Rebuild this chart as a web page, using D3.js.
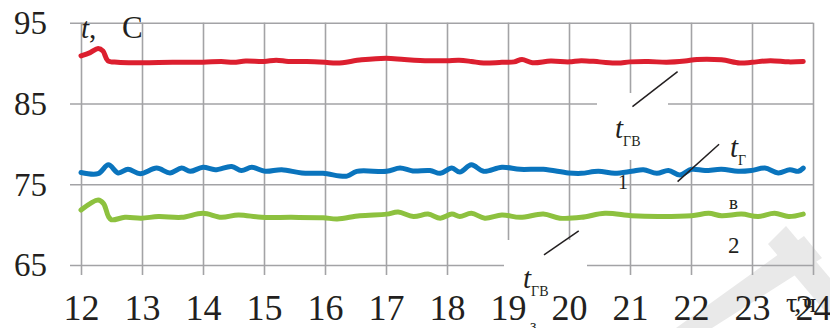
<!DOCTYPE html>
<html>
<head>
<meta charset="utf-8">
<script src="https://cdn.jsdelivr.net/npm/d3@7/dist/d3.min.js"></script>
<style>
  html, body { margin: 0; padding: 0; background: #fff; }
  svg { display: block; }
  text { font-family: "Liberation Serif", "Times New Roman", serif; fill: #231f20; }
</style>
</head>
<body>
<script>
// Axis ticks
const hourTicks = [12, 13, 14, 15, 16, 17, 18, 19, 20, 21, 22, 23, 24];
const tempTicks = [65, 75, 85, 95];

// Hot-water temperature t_ГВ (red)
const redHours = [12.0, 12.15, 12.28, 12.36, 12.44, 12.6, 13.0, 13.5, 14.0, 14.3, 14.5, 14.7, 15.0, 15.2, 15.4, 15.7,
  16.0, 16.2, 16.6, 17.0, 17.3, 17.7, 18.0, 18.2, 18.4, 18.6, 18.9, 19.1, 19.23, 19.4, 19.7, 20.0, 20.2, 20.5,
  20.8, 21.0, 21.3, 21.6, 21.9, 22.1, 22.5, 22.8, 23.0, 23.3, 23.6, 23.84];
const redTemps = [90.9, 91.3, 91.8, 91.5, 90.3, 90.1, 90.05, 90.1, 90.1, 90.2, 90.1, 90.25, 90.2, 90.35, 90.2, 90.2,
  90.1, 90.0, 90.4, 90.6, 90.45, 90.3, 90.3, 90.35, 90.2, 90.0, 90.1, 90.15, 90.45, 90.05, 90.25, 90.15, 90.3, 90.15,
  90.0, 90.15, 90.2, 90.1, 90.25, 90.45, 90.4, 90.0, 90.1, 90.3, 90.15, 90.2];

// Return temperature t_Г (blue), line 1
const blueHours = [12.0, 12.28, 12.45, 12.61, 12.77, 12.97, 13.24, 13.46, 13.65, 13.79, 14.0, 14.2, 14.47, 14.63, 14.8,
  15.02, 15.29, 15.62, 15.97, 16.36, 16.52, 17.01, 17.23, 17.44, 17.72, 17.89, 18.08, 18.21, 18.4, 18.6, 18.9, 19.2,
  19.58, 19.99, 20.2, 20.48, 20.75, 21.03, 21.22, 21.44, 21.63, 21.82, 22.01, 22.23, 22.5, 22.77, 22.99, 23.21,
  23.43, 23.62, 23.76, 23.84];
const blueTemps = [76.45, 76.3, 77.4, 76.4, 76.85, 76.3, 77.0, 76.4, 77.0, 76.6, 77.1, 76.8, 77.2, 76.7, 77.1,
  76.6, 76.8, 76.4, 76.35, 76.0, 76.6, 76.6, 77.0, 76.65, 76.7, 76.35, 77.0, 76.5, 77.4, 76.6, 77.1, 76.85,
  76.85, 76.4, 76.35, 76.6, 76.35, 76.6, 76.8, 76.35, 76.7, 76.15, 76.85, 76.7, 76.85, 76.6, 76.7, 77.0,
  76.4, 76.8, 76.6, 77.0];

// Return temperature t_Гв (green), line 2
const greenHours = [12.0, 12.28, 12.37, 12.45, 12.5, 12.72, 12.99, 13.27, 13.65, 14.0, 14.3, 14.58, 14.96, 15.45,
  15.97, 16.2, 16.57, 17.01, 17.2, 17.45, 17.69, 17.89, 18.08, 18.21, 18.4, 18.62, 18.9, 19.2, 19.58, 19.85,
  20.2, 20.59, 21.03, 21.46, 22.01, 22.29, 22.5, 22.83, 23.1, 23.37, 23.6, 23.84];
const greenTemps = [71.8, 73.05, 72.6, 71.0, 70.6, 70.9, 70.8, 71.0, 70.9, 71.4, 70.9, 71.2, 70.9, 70.9,
  70.85, 70.7, 71.1, 71.3, 71.55, 71.0, 71.3, 70.8, 71.3, 71.0, 71.4, 70.8, 71.2, 70.9, 71.3, 70.8,
  70.9, 71.4, 71.1, 71.0, 71.1, 71.4, 71.1, 71.3, 71.0, 71.4, 71.0, 71.3];

// Leader lines for the curve labels, in (hour, °C)
const leaderLines = [
  [[21.04, 84.6], [21.78, 88.94]],
  [[21.78, 75.32], [22.46, 79.95]],
  [[19.59, 66.25], [20.16, 69.22]]
];

const W = 830, H = 328;
const svg = d3.select("body").append("svg").attr("width", W).attr("height", H);

const x = d3.scaleLinear().domain([12, 24]).range([81, 813]);
const y = d3.scaleLinear().domain([65, 95]).range([265, 22.7]);

const gridColor = "#a3a3a6";

// Faint watermark in the lower right corner
const wm = svg.append("g").attr("fill", "#e9e9e9");
wm.append("polygon").attr("points", "676,328 712,328 822,258 804,236");
wm.append("polygon").attr("points", "768,244 786,226 852,304 834,322");

// Vertical grid lines with hour labels
const xAxis = d3.axisBottom(x).tickValues(hourTicks).tickSizeInner(-(275 - y(95))).tickSizeOuter(0);
const gx = svg.append("g").attr("transform", "translate(0,275)").call(xAxis);
gx.select(".domain").remove();
gx.selectAll("line").attr("stroke", gridColor).attr("stroke-width", 1.6);
gx.selectAll("text").attr("y", 45).attr("dy", null)
  .style("font-size", "36px").attr("fill", "#231f20");

// Horizontal grid lines with temperature labels
const yAxis = d3.axisLeft(y).tickValues(tempTicks).tickSizeInner(813 - 70).tickSizeOuter(0);
const gy = svg.append("g").attr("transform", "translate(813,0)").call(yAxis);
gy.select(".domain").remove();
gy.selectAll("line").attr("stroke", gridColor).attr("stroke-width", 1.6);
gy.selectAll("text").attr("x", 47 - 813).attr("dy", "0.33em")
  .style("font-size", "33px").attr("fill", "#231f20");

// White boxes behind the curve labels
svg.append("rect").attr("x", 597).attr("y", 93).attr("width", 71).attr("height", 67).attr("fill", "#fff");
svg.append("rect").attr("x", 504).attr("y", 240).attr("width", 83).attr("height", 48).attr("fill", "#fff");

// Curves
const series = [
  { hours: redHours, temps: redTemps, color: "#dc1f2f" },
  { hours: blueHours, temps: blueTemps, color: "#0a74bd" },
  { hours: greenHours, temps: greenTemps, color: "#8dc13f" }
];
const line = d3.line().x(d => x(d[0])).y(d => y(d[1])).curve(d3.curveCatmullRom.alpha(0.5));
series.forEach(s => {
  svg.append("path")
    .datum(d3.zip(s.hours, s.temps))
    .attr("d", line)
    .attr("fill", "none")
    .attr("stroke", s.color)
    .attr("stroke-width", 5)
    .attr("stroke-linecap", "round")
    .attr("stroke-linejoin", "round");
});

// Leader lines
svg.append("g").selectAll("line").data(leaderLines).join("line")
  .attr("x1", d => x(d[0][0])).attr("y1", d => y(d[0][1]))
  .attr("x2", d => x(d[1][0])).attr("y2", d => y(d[1][1]))
  .attr("stroke", "#231f20").attr("stroke-width", 1.5);

// Axis titles
const title = svg.append("text").attr("x", 81).attr("y", 38).style("font-size", "29px");
title.append("tspan").style("font-style", "italic").text("t");
title.append("tspan").text(",");
title.append("tspan").attr("x", 122).style("font-size", "31px").text("C");

svg.append("text").attr("x", 786).attr("y", 312).style("font-size", "28px")
  .attr("letter-spacing", "-3").text("τ, ч");

// Curve labels
function subLabel(px, py, sub) {
  const t = svg.append("text").attr("x", px).attr("y", py).style("font-size", "29px");
  t.append("tspan").style("font-style", "italic").text("t");
  t.append("tspan").attr("dy", 8).style("font-size", "14px").text(sub);
}
subLabel(615, 138, "ГВ");
subLabel(730, 157, "Г");
subLabel(523, 288, "ГВ");

svg.append("text").attr("x", 618).attr("y", 189).style("font-size", "20px").text("1");
svg.append("text").attr("x", 729).attr("y", 209).style("font-size", "19px").text("в");
svg.append("text").attr("x", 728).attr("y", 253).style("font-size", "23px").text("2");
svg.append("text").attr("x", 530).attr("y", 331).style("font-size", "16px").text("з");
</script>
</body>
</html>
